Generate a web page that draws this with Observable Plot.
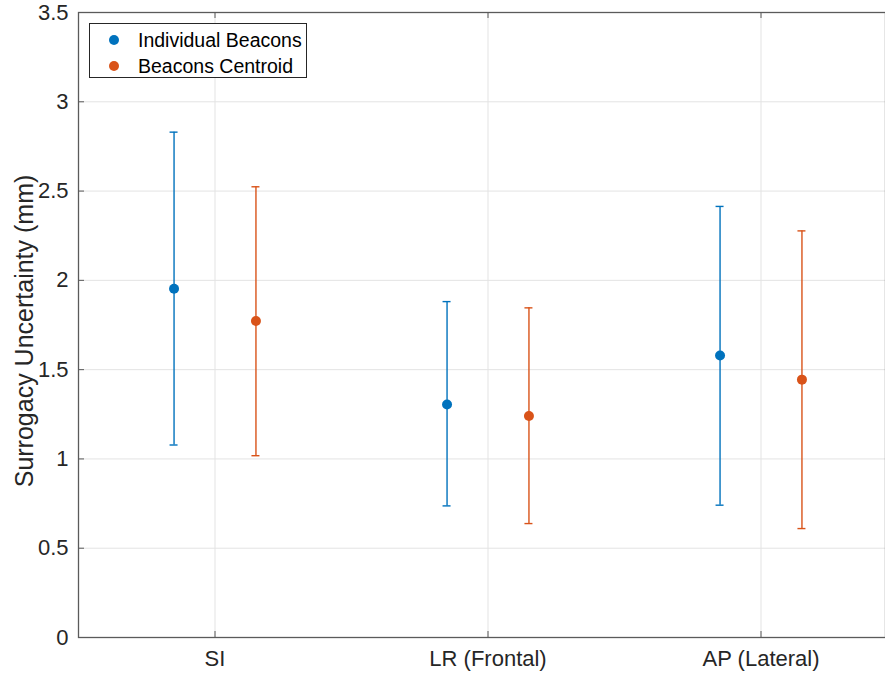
<!DOCTYPE html>
<html>
<head>
<meta charset="utf-8">
<script src="https://cdn.jsdelivr.net/npm/d3@7"></script>
<script src="https://cdn.jsdelivr.net/npm/@observablehq/plot@0.6"></script>
<style>
  html, body { margin: 0; padding: 0; background: #fff; }
  #wrap { position: relative; width: 885px; height: 678px; overflow: hidden; font-family: "Liberation Sans", Arial, sans-serif; }
  #legend { position: absolute; left: 89px; top: 23px; width: 216px; height: 53px; border: 1px solid #262626; background: #fff; }
  .row { position: absolute; left: 0; height: 22px; display: flex; align-items: center; font-size: 19.5px; color: #000; white-space: nowrap; }
  .sw { position: absolute; left: 19px; width: 10px; height: 10px; border-radius: 50%; }
  .lab { position: absolute; left: 48px; }
</style>
</head>
<body>
<div id="wrap"></div>
<script>
// ---- data ----
const categories = ["SI", "LR (Frontal)", "AP (Lateral)"];
const seriesNames = ["Individual Beacons", "Beacons Centroid"];
const individualMean = [1.953, 1.305, 1.579];
const individualLow  = [1.078, 0.737, 0.741];
const individualHigh = [2.830, 1.881, 2.414];
const centroidMean   = [1.772, 1.240, 1.444];
const centroidLow    = [1.018, 0.638, 0.610];
const centroidHigh   = [2.524, 1.846, 2.277];
const yTicks = [0, 0.5, 1, 1.5, 2, 2.5, 3, 3.5];
const colors = ["#0072BD", "#D95319"];

// ---- layout ----
const W = 885, H = 678;
const mLeft = 78, mTop = 12, mBottom = 41;
const xRightPx = 897;               // right edge of axes box lies just past the canvas
const xDomain = [0.5, 3.5], yDomain = [0, 3.5];
const pxPerX = (xRightPx - mLeft) / (xDomain[1] - xDomain[0]);
const pxPerY = (H - mBottom - mTop) / (yDomain[1] - yDomain[0]);
const offset = 0.15;
const capHalf = 4 / pxPerX;
const tickX = 6 / pxPerX, tickY = 6 / pxPerY;

const rows = [];
categories.forEach((c, i) => {
  rows.push({series: seriesNames[0], x: i + 1 - offset, mean: individualMean[i], lo: individualLow[i], hi: individualHigh[i]});
  rows.push({series: seriesNames[1], x: i + 1 + offset, mean: centroidMean[i], lo: centroidLow[i], hi: centroidHigh[i]});
});
const caps = rows.flatMap(d => [{...d, y: d.lo}, {...d, y: d.hi}]);
const catPos = categories.map((c, i) => i + 1);
const gridY = yTicks.filter(v => v > 0 && v < 3.5);

const axisColor = "#5a5a5a";
const gridColor = "#e3e3e3";

const chart = Plot.plot({
  width: W, height: H,
  marginLeft: mLeft, marginTop: mTop, marginBottom: mBottom, marginRight: 0,
  style: {fontFamily: '"Liberation Sans", Arial, sans-serif', fontSize: "22px", color: "#262626", background: "#fff", overflow: "hidden"},
  x: {domain: xDomain, range: [mLeft, xRightPx], axis: null},
  y: {domain: yDomain, axis: null},
  color: {domain: seriesNames, range: colors},
  marks: [
    Plot.ruleY(gridY, {stroke: gridColor, strokeWidth: 1}),
    Plot.ruleX(catPos, {stroke: gridColor, strokeWidth: 1}),
    // inward ticks
    Plot.ruleY(yTicks, {x1: xDomain[0], x2: xDomain[0] + tickX, stroke: axisColor}),
    Plot.ruleX(catPos, {y1: yDomain[0], y2: yDomain[0] + tickY, stroke: axisColor}),
    Plot.ruleX(catPos, {y1: yDomain[1], y2: yDomain[1] - tickY, stroke: axisColor}),
    Plot.frame({stroke: axisColor, strokeWidth: 1.3}),
    // error bars
    Plot.ruleX(rows, {x: "x", y1: "lo", y2: "hi", stroke: "series", strokeWidth: 1.4}),
    Plot.ruleY(caps, {y: "y", x1: d => d.x - capHalf, x2: d => d.x + capHalf, stroke: "series", strokeWidth: 1.4}),
    Plot.dot(rows, {x: "x", y: "mean", fill: "series", r: 5, stroke: null}),
    // axes
    Plot.axisY(yTicks, {anchor: "left", tickSize: 0, tickPadding: 10, tickFormat: d => String(d), fontSize: 22, label: null}),
    Plot.axisX(catPos, {anchor: "bottom", tickSize: 0, tickPadding: 13, tickFormat: d => categories[d - 1], fontSize: 22, label: null}),
    Plot.text(["Surrogacy Uncertainty (mm)"], {frameAnchor: "left", textAnchor: "middle", dx: -54, dy: 6, rotate: -90, fontSize: 25, fill: "#262626", text: d => d})
  ]
});

const wrap = document.getElementById("wrap");
wrap.appendChild(chart);

// legend (HTML overlay inside the axes, as in the reference)
const legend = document.createElement("div");
legend.id = "legend";
seriesNames.forEach((name, i) => {
  const row = document.createElement("div");
  row.className = "row";
  row.style.top = (i === 0 ? 5 : 31) + "px";
  const sw = document.createElement("span");
  sw.className = "sw";
  sw.style.background = colors[i];
  const lab = document.createElement("span");
  lab.className = "lab";
  lab.textContent = name;
  row.appendChild(sw);
  row.appendChild(lab);
  legend.appendChild(row);
});
wrap.appendChild(legend);
</script>
</body>
</html>
